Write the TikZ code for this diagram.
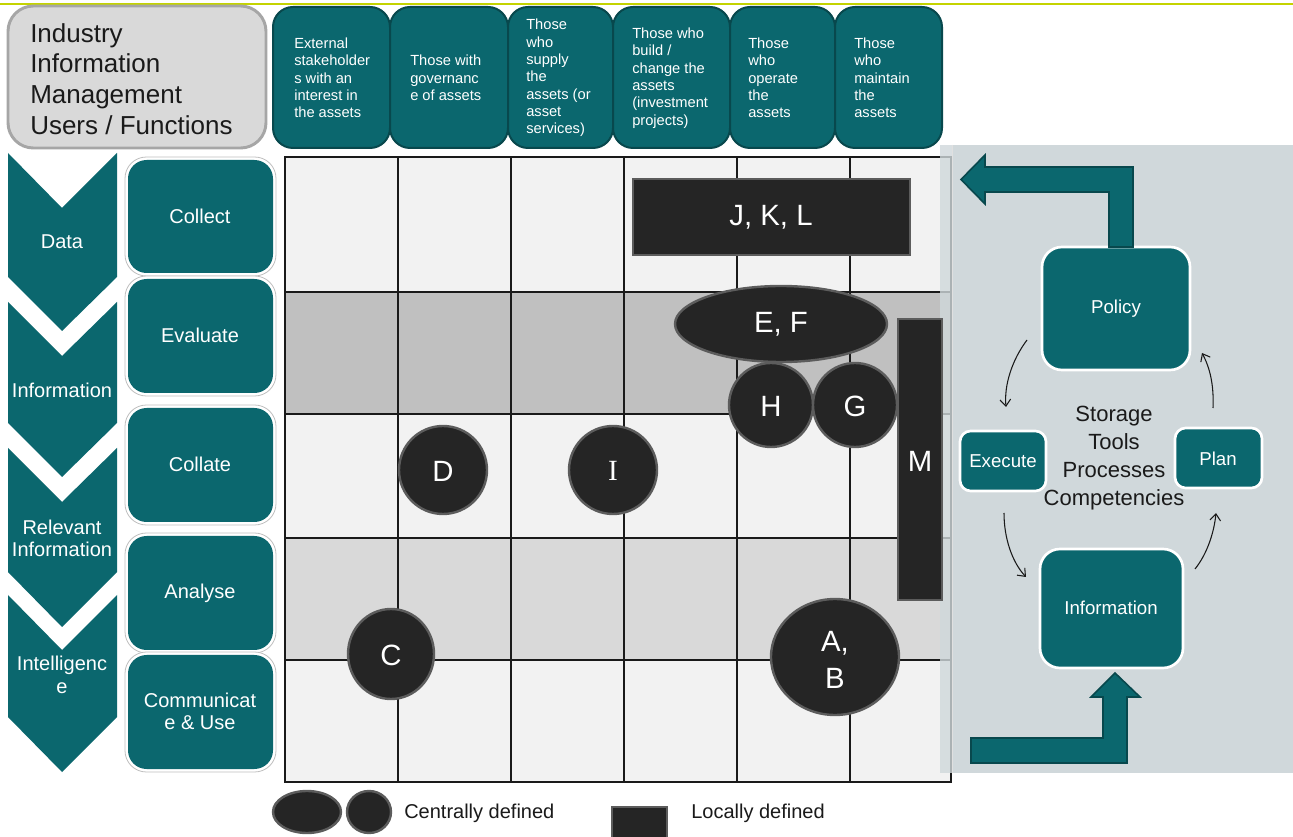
\documentclass[tikz,border=0pt]{standalone}
\usepackage{fontspec}
\setmainfont{Liberation Sans}
\newfontfamily\serifI{Liberation Serif}
\usetikzlibrary{arrows.meta}
\definecolor{teal1}{HTML}{0B676E}
\definecolor{tealdark}{HTML}{08484D}
\definecolor{limeline}{HTML}{C4D300}
\definecolor{panelc}{HTML}{D0D8DB}
\definecolor{objfill}{HTML}{252525}
\definecolor{objline}{HTML}{5C5C5C}
\definecolor{rowA}{HTML}{F2F2F2}
\definecolor{rowB}{HTML}{C0C0C0}
\definecolor{rowC}{HTML}{D9D9D9}
\definecolor{txtdark}{HTML}{1A1A1A}
\begin{document}
\begin{tikzpicture}[x=0.75pt,y=-0.75pt,
  colhead/.style={fill=teal1,draw=tealdark,line width=1.5pt,rounded corners=15pt},
  colhtxt/.style={text=white,font=\fontsize{11}{13}\selectfont,align=left,inner sep=0pt,anchor=west},
  chev/.style={fill=teal1},
  chevtxt/.style={text=white,font=\fontsize{15}{16.5}\selectfont,align=center,inner sep=0pt},
  ring/.style={fill=white,draw=black!25,line width=0.6pt,rounded corners=16pt},
  stepbox/.style={fill=teal1,rounded corners=14pt},
  steptxt/.style={text=white,font=\fontsize{15}{16.5}\selectfont,align=center,inner sep=0pt},
  obj/.style={fill=objfill,draw=objline,line width=1.8pt},
  objtxt/.style={text=white,font=\fontsize{22}{28}\selectfont,align=center,inner sep=0pt},
  pbox/.style={fill=teal1,draw=white,line width=2pt,rounded corners=15pt},
  sbox/.style={fill=teal1,draw=white,line width=2pt,rounded corners=8pt},
  ptxt/.style={text=white,font=\fontsize{14}{16}\selectfont,inner sep=0pt},
  bigarrow/.style={fill=teal1,draw=tealdark,line width=1.2pt,line join=miter},
  cyc/.style={draw=txtdark,line width=0.8pt,-{Straight Barb[length=5pt,width=8pt]}},
  grid line/.style={draw=txtdark,line width=0.9pt},
  legtxt/.style={text=txtdark,font=\fontsize{15}{18}\selectfont,inner sep=0pt,anchor=west}
]
\useasboundingbox (0,0) rectangle (1293,837);
\fill[white] (0,0) rectangle (1293,837);
% top line
\draw[limeline,line width=1.6pt] (0,4) -- (1293,4);

% title box
\draw[fill=rowC,draw=black!35,line width=2.2pt,rounded corners=19pt] (8,6) rectangle (266,148);
\node[text=txtdark,font=\fontsize{19.5}{23}\selectfont,align=left,inner sep=0pt,anchor=west] (title) at (30,79)
  {Industry\\Information\\Management\\Users / Functions};

% column headers
\draw[colhead] (273,7) rectangle (390,148);
\draw[colhead] (390,7) rectangle (508,148);
\draw[colhead] (508,7) rectangle (613,148);
\draw[colhead] (613,7) rectangle (730,148);
\draw[colhead] (730,7) rectangle (835,148);
\draw[colhead] (835,7) rectangle (942,148);
\node[colhtxt] (h1) at (294,78) {External\\stakeholder\\s with an\\interest in\\the assets};
\node[colhtxt] (h2) at (410,78) {Those with\\governanc\\e of assets};
\node[colhtxt] (h3) at (526,78) {Those\\who\\supply\\the\\assets (or\\asset\\services)};
\node[colhtxt] (h4) at (632,78) {Those who\\build /\\change the\\assets\\(investment\\projects)};
\node[colhtxt] (h5) at (748,78) {Those\\who\\operate\\the\\assets};
\node[colhtxt] (h6) at (854,78) {Those\\who\\maintain\\the\\assets};

% chevrons
\fill[chev] (8,153) -- (62,208) -- (117,153) -- (117,277) -- (62,331) -- (8,277) -- cycle;
\fill[chev] (8,302) -- (62,356) -- (117,302) -- (117,423) -- (62,477) -- (8,423) -- cycle;
\fill[chev] (8,448) -- (62,502) -- (117,448) -- (117,572) -- (62,627) -- (8,572) -- cycle;
\fill[chev] (8,595) -- (62,650) -- (117,595) -- (117,717) -- (62,772) -- (8,717) -- cycle;
\node[chevtxt] (c1) at (62,242) {Data};
\node[chevtxt] (c2) at (62,390) {Information};
\node[chevtxt] (c3) at (62,538) {Relevant\\Information};
\node[chevtxt,font=\fontsize{15}{17}\selectfont] (c4) at (62,675) {Intelligenc\\e};

% step boxes
\foreach \a/\b in {160/273,279/393,408/522,536/650,655/769}{
  \draw[ring] (125,\a-3) rectangle (276,\b+3);
}
\foreach \a/\b in {160/273,279/393,408/522,536/650,655/769}{
  \fill[stepbox] (128,\a) rectangle (273,\b);
}
\node[steptxt] (s1) at (200,216) {Collect};
\node[steptxt] (s2) at (200,335) {Evaluate};
\node[steptxt] (s3) at (200,464) {Collate};
\node[steptxt] (s4) at (200,593) {Analyse};
\node[steptxt] (s5) at (200,711) {Communicat\\e \& Use};

% grid
\fill[rowA] (285,157) rectangle (951,292);
\fill[rowB] (285,292) rectangle (951,414);
\fill[rowA] (285,414) rectangle (951,538);
\fill[rowC] (285,538) rectangle (951,660);
\fill[rowA] (285,660) rectangle (951,782);
\foreach \y in {292,414,538,660}{ \draw[grid line] (285,\y) -- (951,\y); }
\foreach \x in {398,511,624,737,850}{ \draw[grid line] (\x,157) -- (\x,782); }
\draw[grid line] (285,157) rectangle (951,782);

% right panel
\fill[panelc,opacity=0.8] (940,145) rectangle (952,773);
\fill[panelc] (952,145) rectangle (1293,773);
\draw[black!12,line width=0.6pt] (952,145) -- (952,773);

% objects
\draw[obj] (633,179) rectangle (910,255);
\node[objtxt] (jkl) at (771,217) {J, K, L};
\draw[obj] (781,324) ellipse [x radius=106, y radius=38];
\node[objtxt] (ef) at (781,324) {E, F};
\draw[obj] (771,405) circle [radius=42];
\node[objtxt] (hh) at (771,406) {H};
\draw[obj] (855,405) circle [radius=42];
\node[objtxt] (gg) at (855,406) {G};
\draw[obj] (898,319) rectangle (942,600);
\node[objtxt] (mm) at (920,461) {M};
\draw[obj] (443,470) circle [radius=44];
\node[objtxt] (dd) at (443,471) {D};
\draw[obj] (613,470) circle [radius=44];
\node[objtxt,font=\serifI\fontsize{22}{26}\selectfont] (ii) at (613,471) {I};
\draw[obj] (391,654) ellipse [x radius=43, y radius=45];
\node[objtxt] (cc) at (391,655) {C};
\draw[obj] (835,657) ellipse [x radius=64, y radius=58];
\node[objtxt] (ab) at (835,660) {A,\\B};

% cycle boxes
\draw[pbox] (1042,247) rectangle (1190,370);
\node[ptxt] (policy) at (1116,309) {Policy};
\draw[sbox] (960,431) rectangle (1046,491);
\node[ptxt] (execute) at (1003,461) {Execute};
\draw[sbox] (1175,428) rectangle (1262,488);
\node[ptxt] (plan) at (1218,459) {Plan};
\draw[pbox] (1040,549) rectangle (1183,668);
\node[ptxt] (info) at (1111,608) {Information};
\node[text=txtdark,font=\fontsize{16.5}{21}\selectfont,align=center,inner sep=0pt] (center) at (1114,458)
  {Storage\\Tools\\Processes\\Competencies};

% cycle arrows
\coordinate (a1s) at (1027,340); \coordinate (a1e) at (1006,407);
\coordinate (a2s) at (1213,408); \coordinate (a2e) at (1202,353);
\coordinate (a3s) at (1004,513); \coordinate (a3e) at (1026,577);
\coordinate (a4s) at (1195,569); \coordinate (a4e) at (1216,513);
\draw[cyc] (a1s) .. controls (1012,360) and (1004,385) .. (a1e);
\draw[cyc] (a2s) .. controls (1214,385) and (1210,368) .. (a2e);
\draw[cyc] (a3s) .. controls (1004,538) and (1012,562) .. (a3e);
\draw[cyc] (a4s) .. controls (1207,554) and (1214,533) .. (a4e);

% big arrows
\draw[bigarrow] (1133,247) -- (1133,167) -- (985,167) -- (985,155) -- (961,179.5) -- (985,204) -- (985,192) -- (1109,192) -- (1109,247) -- cycle;
\draw[bigarrow] (971,738) -- (1103,738) -- (1103,697) -- (1091,697) -- (1115,673) -- (1140,697) -- (1127,697) -- (1127,763) -- (971,763) -- cycle;

% legend
\draw[obj] (307,812) ellipse [x radius=34, y radius=21];
\draw[obj] (369,812) ellipse [x radius=22, y radius=21];
\node[legtxt] (lc) at (404,813) {Centrally defined};
\draw[obj] (612,807) rectangle (667,845);
\node[legtxt] (ll) at (691,813) {Locally defined};
\end{tikzpicture}
\end{document}
